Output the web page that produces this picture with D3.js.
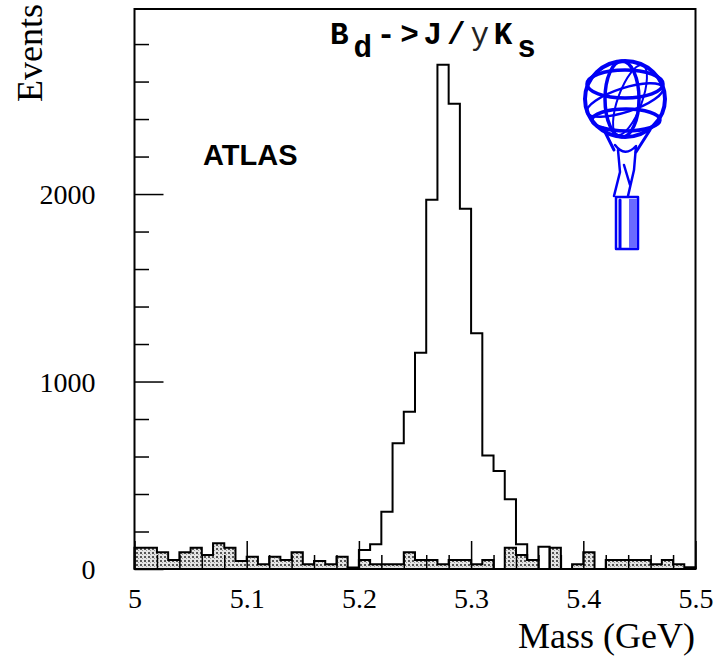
<!DOCTYPE html>
<html>
<head>
<meta charset="utf-8">
<script src="https://cdn.jsdelivr.net/npm/d3@7"></script>
<style>
  html, body { margin: 0; padding: 0; background: #fff; }
  svg { display: block; }
</style>
</head>
<body>
<svg id="chart" width="715" height="657"></svg>
<script>
// ---------- data ----------
const binLow = [5.00,5.01,5.02,5.03,5.04,5.05,5.06,5.07,5.08,5.09,
                5.10,5.11,5.12,5.13,5.14,5.15,5.16,5.17,5.18,5.19,
                5.20,5.21,5.22,5.23,5.24,5.25,5.26,5.27,5.28,5.29,
                5.30,5.31,5.32,5.33,5.34,5.35,5.36,5.37,5.38,5.39,
                5.40,5.41,5.42,5.43,5.44,5.45,5.46,5.47,5.48,5.49];
const binWidth = 0.01;
const background = [114,114,89,48,89,114,75,137,114,43,
                    66,25,66,48,89,25,43,25,66,0,
                    48,25,25,25,89,48,48,25,48,48,
                    25,48,0,114,75,48,0,114,0,25,
                    89,0,48,48,48,48,25,48,25,10];
const signal = [0,0,0,0,0,0,0,0,0,0,
                0,0,0,0,0,0,0,0,0,8,
                101,132,306,671,839,1154,1969,2689,2481,1921,
                1258,605,523,372,132,48,119,0,0,0,
                0,0,0,0,0,0,0,0,0,0];
const xMajorTicks = [5.0, 5.1, 5.2, 5.3, 5.4, 5.5];
const xTickLabels = ["5", "5.1", "5.2", "5.3", "5.4", "5.5"];
const xMinorTicks = [5.02,5.04,5.06,5.08,5.12,5.14,5.16,5.18,5.22,5.24,5.26,5.28,
                     5.32,5.34,5.36,5.38,5.42,5.44,5.46,5.48];
const yMajorTicks = [0, 1000, 2000];
const yTickLabels = ["0", "1000", "2000"];
const yMinorTicks = [200,400,600,800,1200,1400,1600,1800,2200,2400,2600,2800];
const xDomain = [5.0, 5.5];
const yDomain = [0, 2987];

// ---------- layout ----------
const L = 134.5, R = 695.5, T = 9, B = 569;
const svg = d3.select("#chart");
const x = d3.scaleLinear().domain(xDomain).range([L, R]);
const y = d3.scaleLinear().domain(yDomain).range([B, T]);

// pattern for background fill
const defs = svg.append("defs");
const pat = defs.append("pattern").attr("id", "dots")
  .attr("width", 4).attr("height", 4).attr("patternUnits", "userSpaceOnUse");
pat.append("rect").attr("width", 4).attr("height", 4).attr("fill", "#e4e4e4");
pat.append("rect").attr("x", 0).attr("y", 0).attr("width", 2).attr("height", 2).attr("fill", "#555");
pat.append("rect").attr("x", 2).attr("y", 2).attr("width", 1).attr("height", 1).attr("fill", "#999");

function stepPoints(vals) {
  const pts = [[binLow[0], 0]];
  vals.forEach((v, i) => {
    pts.push([binLow[i], v]);
    pts.push([binLow[i] + binWidth, v]);
  });
  pts.push([binLow[binLow.length - 1] + binWidth, 0]);
  return pts;
}

// background histogram (filled)
const bgPts = stepPoints(background);
svg.append("path")
  .attr("d", d3.area().x(d => x(d[0])).y0(y(0)).y1(d => y(d[1]))(bgPts))
  .attr("fill", "url(#dots)").attr("stroke", "none");
svg.append("path")
  .attr("d", d3.line().x(d => x(d[0])).y(d => y(d[1]))(bgPts))
  .attr("fill", "none").attr("stroke", "#000").attr("stroke-width", 2);

// signal histogram (outline)
const sgPts = stepPoints(signal);
svg.append("path")
  .attr("d", d3.line().x(d => x(d[0])).y(d => y(d[1]))(sgPts))
  .attr("fill", "none").attr("stroke", "#000").attr("stroke-width", 2);

// axes
const tickFont = "'Liberation Serif', 'Times New Roman', serif";
const gx = svg.append("g").attr("transform", `translate(0,${B})`)
  .call(d3.axisBottom(x).tickValues(xMajorTicks)
        .tickFormat((d, i) => xTickLabels[i]).tickSize(-28).tickPadding(19));
const gxm = svg.append("g").attr("transform", `translate(0,${B})`)
  .call(d3.axisBottom(x).tickValues(xMinorTicks).tickFormat("").tickSize(-14));
const gy = svg.append("g").attr("transform", `translate(${L},0)`)
  .call(d3.axisLeft(y).tickValues(yMajorTicks)
        .tickFormat((d, i) => yTickLabels[i]).tickSize(-29).tickPadding(39));
const gym = svg.append("g").attr("transform", `translate(${L},0)`)
  .call(d3.axisLeft(y).tickValues(yMinorTicks).tickFormat("").tickSize(-14.5));
[gx, gxm, gy, gym].forEach(g => {
  g.select(".domain").remove();
  g.selectAll("line").attr("stroke", "#000").attr("stroke-width", 1.5);
  g.selectAll("text").attr("font-family", tickFont).attr("font-size", 28).attr("fill", "#000");
});
gy.selectAll("text").attr("dy", "0.34em");

// frame
svg.append("rect").attr("x", L).attr("y", T).attr("width", R - L).attr("height", B - T)
  .attr("fill", "none").attr("stroke", "#000").attr("stroke-width", 2);

// axis titles
svg.append("text").attr("x", 695).attr("y", 648).attr("text-anchor", "end")
  .attr("font-family", tickFont).attr("font-size", 36).text("Mass (GeV)");
svg.append("text").attr("transform", "translate(42,4) rotate(-90)")
  .attr("text-anchor", "end")
  .attr("font-family", tickFont).attr("font-size", 36).text("Events");

// decay title
const tt = svg.append("text").attr("x", 330).attr("y", 44)
  .attr("font-family", "'Liberation Mono', 'Courier New', monospace")
  .attr("font-weight", "bold").attr("font-size", 31).attr("letter-spacing", 4.8);
tt.append("tspan").text("B");
tt.append("tspan").attr("dy", 13).text("d");
tt.append("tspan").attr("dy", -13).text("->J/");
tt.append("tspan").attr("font-weight", "normal").attr("fill", "#222").text("y");
tt.append("tspan").text("K");
tt.append("tspan").attr("dy", 13).text("s");

// ATLAS label
svg.append("text").attr("x", 203).attr("y", 165)
  .attr("font-family", "'Liberation Sans', Arial, sans-serif")
  .attr("font-weight", "bold").attr("font-size", 29).text("ATLAS");

// ATLAS logo (figure holding globe)
const logo = svg.append("g").attr("fill", "none").attr("stroke", "#0000f5")
  .attr("stroke-linecap", "round").attr("stroke-linejoin", "round");
logo.append("ellipse").attr("cx", 625).attr("cy", 99).attr("rx", 40).attr("ry", 38).attr("stroke-width", 4);
logo.append("ellipse").attr("cx", 622).attr("cy", 99).attr("rx", 17).attr("ry", 38).attr("stroke-width", 3.5);
logo.append("ellipse").attr("cx", 625).attr("cy", 84).attr("rx", 38).attr("ry", 14).attr("stroke-width", 3.5);
logo.append("ellipse").attr("cx", 626).attr("cy", 120).attr("rx", 34).attr("ry", 11).attr("stroke-width", 3.5);
logo.append("ellipse").attr("cx", 625).attr("cy", 100).attr("rx", 40).attr("ry", 12)
  .attr("transform", "rotate(-18 625 100)").attr("stroke-width", 2.5);
logo.append("ellipse").attr("cx", 630).attr("cy", 100).attr("rx", 12).attr("ry", 37)
  .attr("transform", "rotate(20 630 100)").attr("stroke-width", 2);
// arms and body
logo.append("path").attr("d", "M603,128 L614,150 M650,130 L636,152").attr("stroke-width", 3);
logo.append("path").attr("d", "M615,145 Q625,158 636,146 L634,170 L628,196 M618,150 L620,172 L614,196 M624,165 L630,185")
  .attr("stroke-width", 2.5);
// pedestal
logo.append("rect").attr("x", 616).attr("y", 197).attr("width", 22).attr("height", 52)
  .attr("stroke-width", 2.5);
logo.append("rect").attr("x", 629).attr("y", 199).attr("width", 8).attr("height", 49)
  .attr("fill", "#6a6aff").attr("stroke", "none");
logo.append("path").attr("d", "M620,200 L620,248").attr("stroke-width", 3);
</script>
</body>
</html>
